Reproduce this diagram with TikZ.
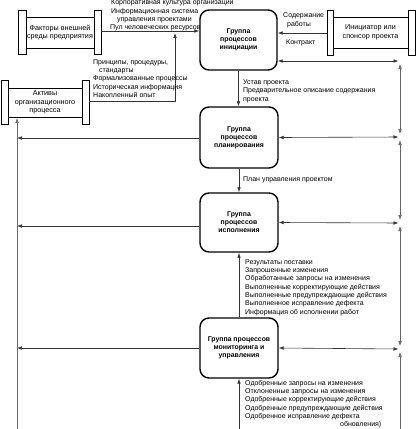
\documentclass[tikz,border=0pt]{standalone}
\usepackage{fontspec}
\setmainfont{Liberation Sans}
\usetikzlibrary{arrows.meta}
\begin{document}
\begin{tikzpicture}[x=1pt,y=-1pt,
  grp/.style={draw, line width=1.4pt, rounded corners=9pt, minimum width=78pt, minimum height=60pt, align=center, font=\fontsize{6.9}{8}\selectfont\bfseries, inner sep=1pt},
  ext/.style={draw, line width=0.6pt, align=center, font=\fontsize{7.2}{8.7}\selectfont, inner sep=0pt},
  barln/.style={draw, line width=0.6pt},
  lbl/.style={anchor=base west, font=\fontsize{7}{8}\selectfont, inner sep=0pt},
  conn/.style={line width=0.6pt, draw=black!80, -{Latex[length=5pt,width=3.6pt]}},
  dconn/.style={line width=0.6pt, draw=black!80, {Latex[length=5pt,width=3.6pt]}-{Latex[length=5pt,width=3.6pt]}},
  vline/.style={draw=black!60},
]
\useasboundingbox (0,0) rectangle (417,429);

% process groups
\node[grp, minimum width=77pt] (init) at (238.5,40) {Группа\\процессов\\инициации};
\node[grp, minimum height=61pt] (plan) at (239,137.5) {Группа\\процессов\\планирования};
\node[grp, minimum height=59pt] (exec) at (239,222.5) {Группа\\процессов\\исполнения};
\node[grp] (mon) at (239,348) {Группа процессов\\мониторинга и\\управления};

% external boxes
\node[ext, minimum width=68pt, minimum height=31pt] (fact) at (60,32.5) {Факторы внешней\\среды предприятия};
\draw[barln] (18,10) rectangle (26,54);
\draw[barln] (94,10) rectangle (101,54);

\node[ext, minimum width=74pt, minimum height=29pt] (assets) at (45,102.5) {Активы\\организационного\\процесса};
\draw[barln] (1,80) rectangle (8,124);
\draw[barln] (82,80) rectangle (89,124);

\node[ext, minimum width=75pt, minimum height=31pt] (spons) at (370.5,32.5) {Инициатор или\\спонсор проекта};
\draw[barln] (327,10) rectangle (333,55);
\draw[barln] (408,10) rectangle (415,55);

% coordinates
\coordinate (fr) at (101,31);
\coordinate (ar) at (89,101);
\coordinate (aj) at (175,33);
\coordinate (sr) at (327,33);
\coordinate (R1) at (400,61);
\coordinate (R2) at (400,137);
\coordinate (R3) at (400,223);
\coordinate (R4) at (400,349);
\coordinate (Rb) at (400,429);
\coordinate (L0) at (17,118);
\coordinate (L2) at (17,138);
\coordinate (L3) at (17,226);
\coordinate (L4) at (17,348);
\coordinate (Lb) at (17,429);
\coordinate (mb) at (239,429);

% inputs to initiation
\draw[conn] (fr) -- (fr -| init.west);
\draw[conn] (ar) -| (aj);
\draw[conn] (sr) -- (sr -| init.east);

% flow between groups
\draw[conn] (init.south) -- (init.south |- plan.north);
\draw[conn] (plan.south) -- (exec.north);
\draw[conn] (mon.north) -- (exec.south);
\draw[conn] (mb) -- (mon.south);

% right bus
\draw[dconn, shorten >=1.5pt] (R1 -| init.east) -- (R1);
\draw[dconn, shorten >=1.5pt] (plan.east) -- (R2);
\draw[dconn, shorten >=1.5pt] (exec.east) -- (R3);
\draw[dconn, shorten >=1.5pt] (mon.east) -- (R4);
\draw[dconn, vline, shorten <=3pt, shorten >=3pt] (R1) -- (R2);
\draw[dconn, vline, shorten <=3pt, shorten >=3pt] (R2) -- (R3);
\draw[dconn, vline, shorten <=3pt, shorten >=3pt] (R3) -- (R4);
\draw[conn, vline, shorten >=3pt] (Rb) -- (R4);

% left bus
\draw[conn, vline] (Lb) -- (L0);
\draw[conn] (L2 -| plan.west) -- (L2);
\draw[conn] (L3 -| exec.west) -- (L3);
\draw[conn] (L4 -| mon.west) -- (L4);

% labels: environment factors
\node[lbl] (f1) at (111,4.8) {Корпоративная культура организации};
\node[lbl] (f2) at (111,13) {Информационная система};
\node[lbl] (f3) at (117,21.2) {управления проектами};
\node[lbl] (f4) at (110,29.4) {Пул человеческих ресурсов};

% labels: assets
\node[lbl] (a1) at (93,64.3) {Принципы, процедуры,};
\node[lbl] (a2) at (99,72.5) {стандарты};
\node[lbl] (a3) at (93,80.8) {Формализованные процессы};
\node[lbl] (a4) at (93,89) {Историческая информация};
\node[lbl] (a5) at (93,97.3) {Накопленный опыт};

% labels: sponsor
\node[lbl] (s1) at (283,17.3) {Содержание};
\node[lbl] (s2) at (287,26.3) {работы};
\node[lbl] (s3) at (286,44.3) {Контракт};

% labels: initiation -> planning
\node[lbl] (i1) at (243,84.3) {Устав проекта};
\node[lbl] (i2) at (243,92.8) {Предварительное описание содержания};
\node[lbl] (i3) at (243,101.3) {проекта};

% label: planning -> execution
\node[lbl] (p1) at (243,181.3) {План управления проектом};

% labels: monitoring -> execution
\node[lbl] (e1) at (245,264.3) {Результаты поставки};
\node[lbl] (e2) at (245,272.6) {Запрошенные изменения};
\node[lbl] (e3) at (245,280.9) {Обработанные запросы на изменения};
\node[lbl] (e4) at (245,289.2) {Выполненные корректирующие действия};
\node[lbl] (e5) at (245,297.5) {Выполненные предупреждающие действия};
\node[lbl] (e6) at (245,305.8) {Выполненное исправление дефекта};
\node[lbl] (e7) at (245,314.1) {Информация об исполнении работ};

% labels: into monitoring
\node[lbl] (m1) at (245,385.3) {Одобренные запросы на изменения};
\node[lbl] (m2) at (245,393.6) {Отклоненные запросы на изменения};
\node[lbl] (m3) at (245,401.9) {Одобренные корректирующие действия};
\node[lbl] (m4) at (245,410.2) {Одобренные предупреждающие действия};
\node[lbl] (m5) at (245,418.5) {Одобренное исправление дефекта};
\node[lbl] (m6) at (340,426.8) {обновления)};
\end{tikzpicture}
\end{document}
